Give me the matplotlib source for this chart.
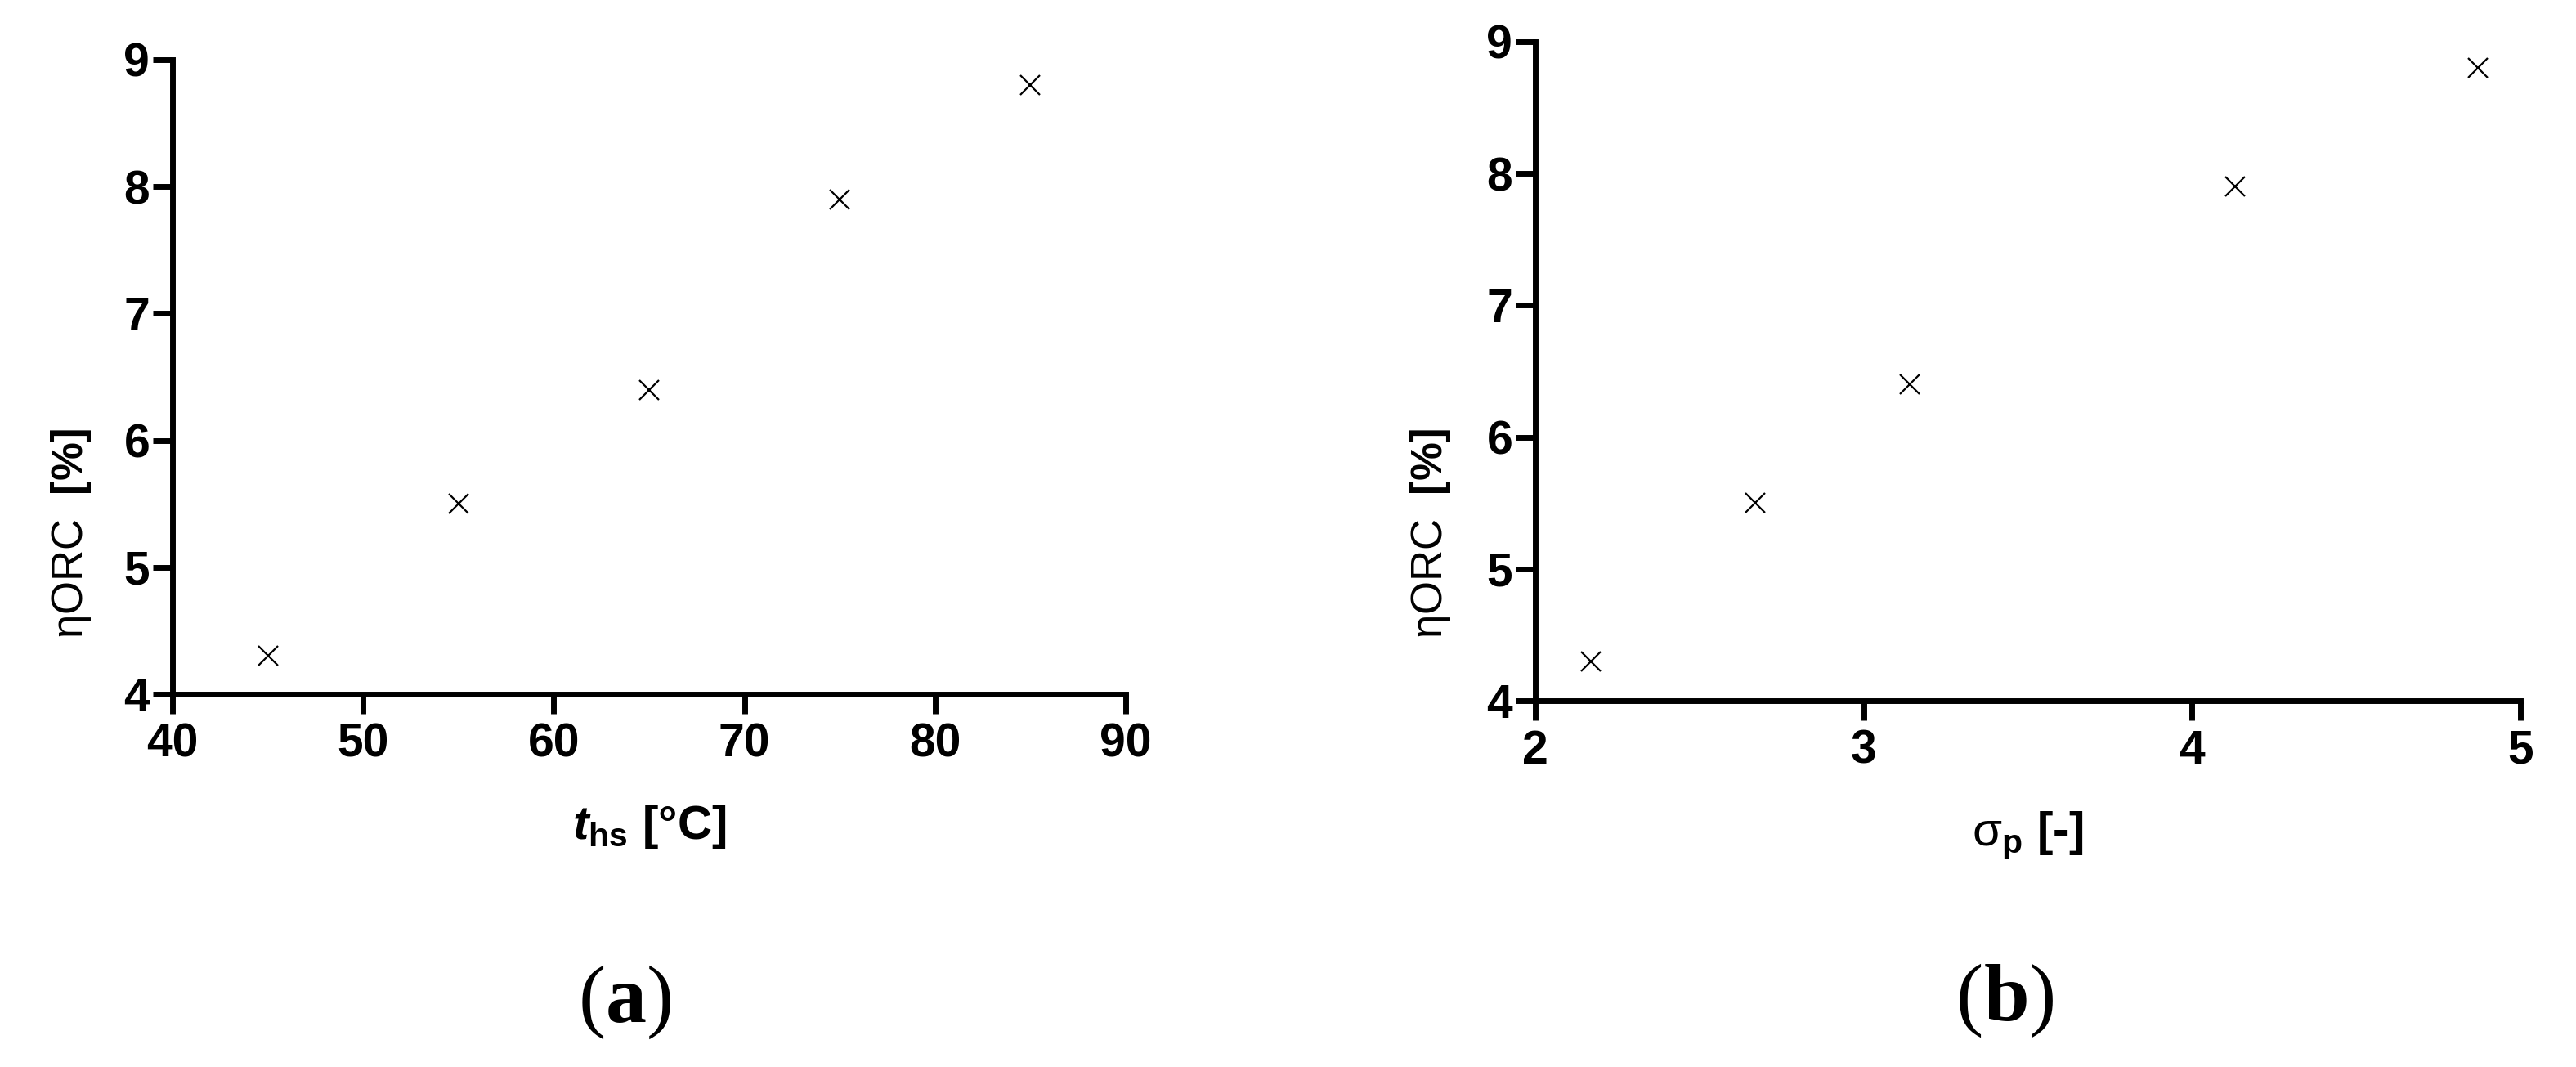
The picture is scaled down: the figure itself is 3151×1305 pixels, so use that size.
import matplotlib
matplotlib.use("Agg")
import matplotlib.pyplot as plt
from matplotlib import font_manager

# ---------------- data ----------------
t_hs = [45, 55, 65, 75, 85]
eta_a = [4.3, 5.5, 6.4, 7.9, 8.8]
sigma_p = [2.17, 2.67, 3.14, 4.13, 4.87]
eta_b = [4.3, 5.5, 6.4, 7.9, 8.8]
xticks_a = [40, 50, 60, 70, 80, 90]
xticks_b = [2, 3, 4, 5]
yticks = [4, 5, 6, 7, 8, 9]

names = {f.name for f in font_manager.fontManager.ttflist}
SANS = "Liberation Sans" if "Liberation Sans" in names else "DejaVu Sans"
SERIF = "Liberation Serif" if "Liberation Serif" in names else "DejaVu Serif"

plt.rcParams["font.family"] = [SANS, "DejaVu Sans"]
plt.rcParams["mathtext.fontset"] = "custom"
plt.rcParams["mathtext.rm"] = SANS
plt.rcParams["mathtext.it"] = SANS + ":italic"
plt.rcParams["mathtext.bf"] = SANS + ":bold"
plt.rcParams["mathtext.bfit"] = SANS + ":italic:bold"

W, H = 3151, 1305
fig = plt.figure(figsize=(W / 100, H / 100), dpi=100)

def make_axes(px_left, px_right, px_top, px_bottom):
    return fig.add_axes([px_left / W, (H - px_bottom) / H,
                         (px_right - px_left) / W, (px_bottom - px_top) / H])

ax1 = make_axes(211, 1377, 73, 849)
ax2 = make_axes(1878, 3083, 51, 857)

LW = 5.0
TICK_FS = 41

def style(ax):
    for s in ("top", "right"):
        ax.spines[s].set_visible(False)
    for s in ("left", "bottom"):
        ax.spines[s].set_linewidth(LW)
        ax.spines[s].set_capstyle("projecting")
    ax.tick_params(direction="out", length=17, width=LW, labelsize=TICK_FS)
    ax.tick_params(axis="y", pad=3)
    ax.tick_params(axis="x", pad=8)
    for lab in ax.get_xticklabels() + ax.get_yticklabels():
        lab.set_fontweight("bold")

ax1.plot(t_hs, eta_a, linestyle="none", marker="x", markersize=17,
         markeredgewidth=1.6, color="black", clip_on=False)
ax1.set_xlim(40, 90)
ax1.set_ylim(4, 9)
ax1.set_xticks(xticks_a)
ax1.set_yticks(yticks)
style(ax1)

ax2.plot(sigma_p, eta_b, linestyle="none", marker="x", markersize=17,
         markeredgewidth=1.6, color="black", clip_on=False)
ax2.set_xlim(2, 5)
ax2.set_ylim(4, 9)
ax2.set_xticks(xticks_b)
ax2.set_yticks(yticks)
style(ax2)

ylab = r"$\mathrm{ηORC}$  [%]"
for ax, px in ((ax1, 87), (ax2, 1750)):
    ax.set_ylabel(ylab, fontsize=38, fontweight="bold")
    ax.yaxis.set_label_coords(px / W, 0.5, transform=fig.transFigure)
    ax.yaxis.label.set_va("center")

ax1.set_xlabel(r"$\mathbfit{t}_{\mathbf{hs}}$ [°C]", fontsize=42, fontweight="bold")
ax1.xaxis.set_label_coords(794 / W, (H - 982) / H, transform=fig.transFigure)
ax1.xaxis.label.set_va("top")
ax2.set_xlabel(r"$\mathrm{σ}_{\mathbf{p}}$ [-]", fontsize=42, fontweight="bold")
ax2.xaxis.set_label_coords(2480 / W, (H - 990) / H, transform=fig.transFigure)
ax2.xaxis.label.set_va("top")

# captions (a), (b): normal parentheses, bold letter
def caption(xc, baseline, letter):
    fs = 72
    t1 = fig.text(0, (H - baseline) / H, "(", family=SERIF, fontsize=fs,
                  va="baseline", ha="left")
    t2 = fig.text(0, (H - baseline) / H, letter, family=SERIF, fontsize=fs,
                  fontweight="bold", va="baseline", ha="left")
    t3 = fig.text(0, (H - baseline) / H, ")", family=SERIF, fontsize=fs,
                  va="baseline", ha="left")
    r = fig.canvas.get_renderer()
    ws = [t.get_window_extent(r).width for t in (t1, t2, t3)]
    x = xc - sum(ws) / 2
    for t, w in zip((t1, t2, t3), ws):
        t.set_x(x / W)
        x += w

caption(766, 1250, "a")
caption(2454, 1248, "b")

fig.savefig("out.png", dpi=100, facecolor="white")
